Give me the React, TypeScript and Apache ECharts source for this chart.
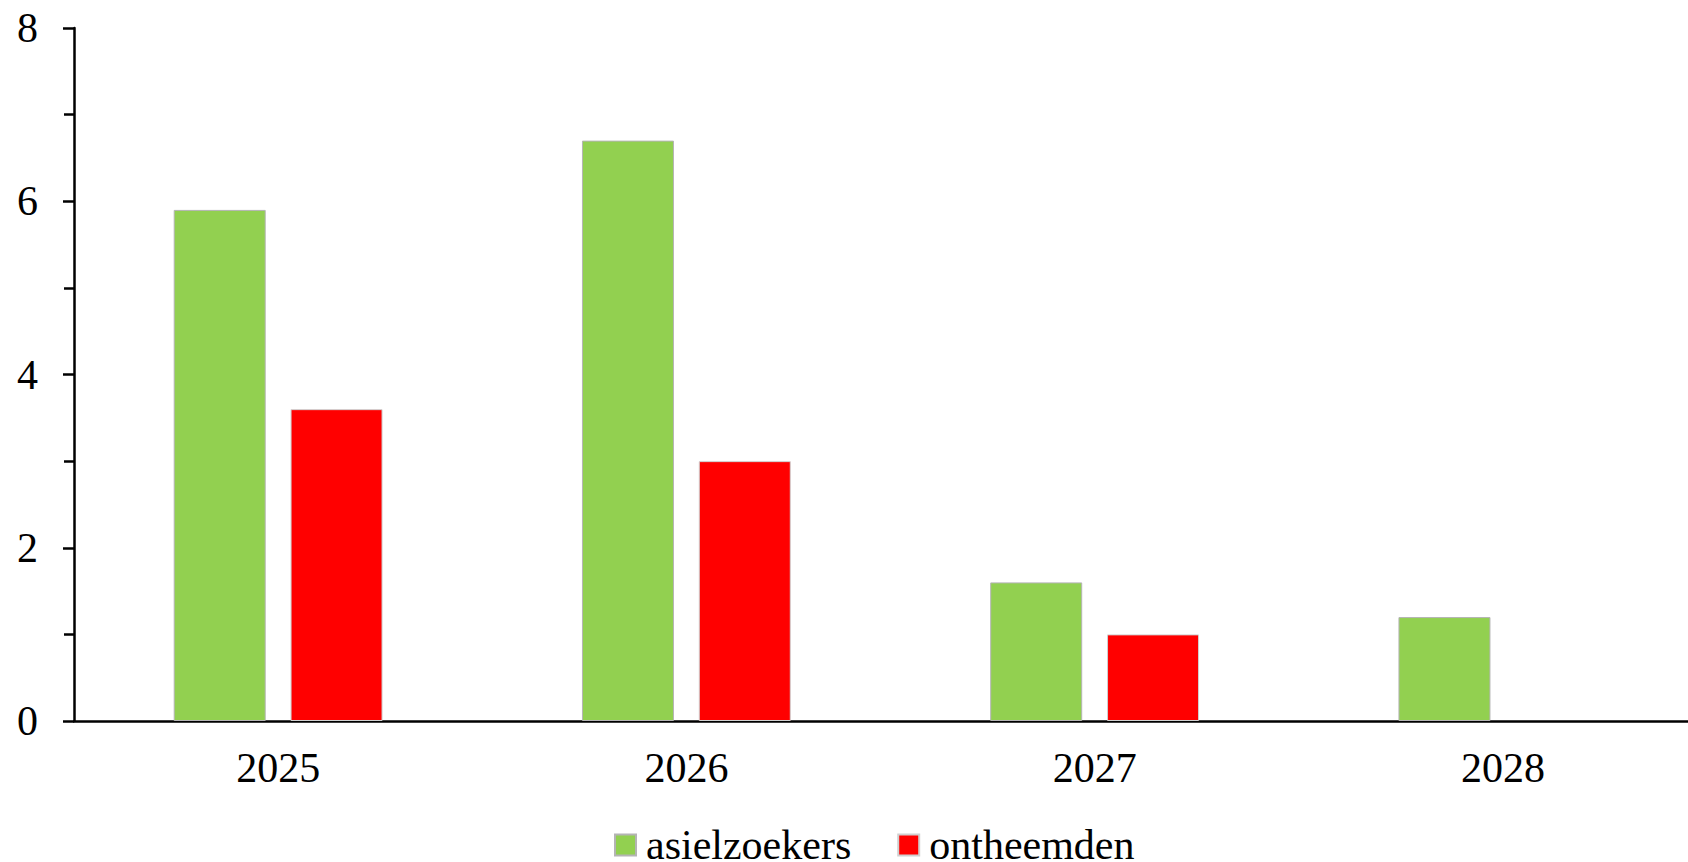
import React, { useEffect, useRef } from "react";
import * as echarts from "echarts";

const categories = ["2025", "2026", "2027", "2028"];
const asielzoekers = [5.9, 6.7, 1.6, 1.2];
const ontheemden: (number | null)[] = [3.6, 3.0, 1.0, null];
const seriesNames = ["asielzoekers", "ontheemden"];
const yTicks = { min: 0, max: 8, interval: 2 };

const FONT = "'Liberation Serif', 'Times New Roman', serif";

export default function App() {
  const ref = useRef<HTMLDivElement>(null);
  useEffect(() => {
    if (!ref.current) return;
    const chart = echarts.init(ref.current, null, { renderer: "svg" });
    chart.setOption({
      animation: false,
      backgroundColor: "#ffffff",
      grid: { left: 74, top: 28, right: 0, bottom: 141, containLabel: false },
      legend: {
        data: seriesNames,
        left: 614,
        top: 824,
        padding: 0,
        itemWidth: 21,
        itemHeight: 21,
        itemGap: 46,
        icon: "rect",
        textStyle: {
          fontFamily: FONT,
          fontSize: 42,
          lineHeight: 32,
          color: "#000",
          padding: [0, 0, 0, 5],
        },
        selectedMode: false,
      },
      xAxis: {
        type: "category",
        data: categories,
        axisLine: { show: true, lineStyle: { color: "#000", width: 2.5 } },
        axisTick: { show: false },
        axisLabel: { fontFamily: FONT, fontSize: 42, color: "#000", margin: 26 },
        splitLine: { show: false },
      },
      yAxis: {
        type: "value",
        min: yTicks.min,
        max: yTicks.max,
        interval: yTicks.interval,
        axisLine: { show: true, lineStyle: { color: "#000", width: 2.5 } },
        axisTick: { show: true, length: 11, lineStyle: { color: "#000", width: 2.5 } },
        minorTick: { show: true, splitNumber: 2, length: 10, lineStyle: { color: "#000", width: 2.5 } },
        axisLabel: { fontFamily: FONT, fontSize: 42, color: "#000", margin: 36 },
        splitLine: { show: false },
      },
      series: [
        {
          name: seriesNames[0],
          type: "bar",
          data: asielzoekers,
          barWidth: 92,
          barGap: "27%",
          itemStyle: { color: "#92D050", borderColor: "#b4b4b4", borderWidth: 1 },
        },
        {
          name: seriesNames[1],
          type: "bar",
          data: ontheemden,
          barWidth: 92,
          barGap: "27%",
          itemStyle: { color: "#FF0000", borderColor: "#d0d0d0", borderWidth: 1 },
        },
      ],
    });
    return () => chart.dispose();
  }, []);
  return (
    <div
      style={{
        position: "fixed",
        left: 0,
        top: 0,
        width: 1688,
        height: 862,
        overflow: "hidden",
        background: "#fff",
      }}
    >
      <div ref={ref} style={{ width: 1707, height: 862 }} />
    </div>
  );
}
